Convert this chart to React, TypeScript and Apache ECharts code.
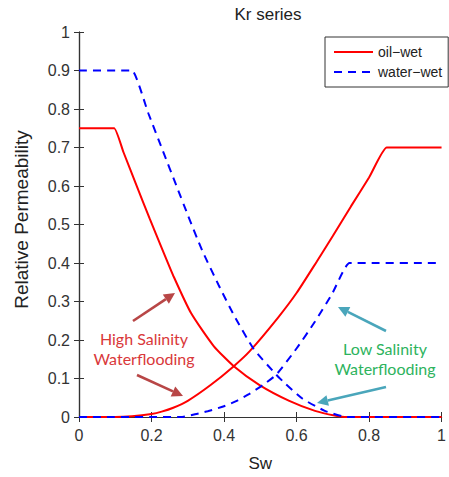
import React, { useEffect, useRef } from "react";
import * as echarts from "echarts";

// Sw values and relative permeabilities
const oilWetKro: [number, number][] = [
  [0, 0.75], [0.092, 0.75], [0.097, 0.75], [0.123, 0.687], [0.158, 0.603], [0.195, 0.515],
  [0.23, 0.435], [0.262, 0.363], [0.309, 0.27], [0.371, 0.185], [0.427, 0.132],
  [0.498, 0.083], [0.58, 0.042], [0.651, 0.016], [0.705, 0.004], [0.74, 0], [1, 0],
];
const oilWetKrw: [number, number][] = [
  [0, 0], [0.1, 0], [0.146, 0.002], [0.2, 0.008], [0.228, 0.014], [0.26, 0.024],
  [0.3, 0.042], [0.363, 0.083], [0.427, 0.132], [0.471, 0.171], [0.548, 0.257],
  [0.6, 0.322], [0.656, 0.404], [0.7, 0.47], [0.75, 0.547], [0.8, 0.622],
  [0.849, 0.7], [0.854, 0.7], [1, 0.7],
];
const waterWetKro: [number, number][] = [
  [0, 0.9], [0.141, 0.9], [0.146, 0.9], [0.192, 0.787], [0.231, 0.692], [0.269, 0.6],
  [0.3, 0.525], [0.34, 0.432], [0.385, 0.343], [0.427, 0.265], [0.481, 0.178],
  [0.544, 0.11], [0.562, 0.093], [0.616, 0.048], [0.678, 0.016], [0.725, 0.002],
  [0.74, 0], [1, 0],
];
const waterWetKrw: [number, number][] = [
  [0, 0], [0.28, 0], [0.32, 0.007], [0.355, 0.015], [0.4, 0.028], [0.435, 0.042],
  [0.47, 0.06], [0.507, 0.083], [0.544, 0.11], [0.6, 0.178], [0.651, 0.248],
  [0.697, 0.318], [0.746, 0.4], [0.751, 0.4], [1, 0.4],
];
const xTicks = [0, 0.2, 0.4, 0.6, 0.8, 1];
const yTicks = [0, 0.1, 0.2, 0.3, 0.4, 0.5, 0.6, 0.7, 0.8, 0.9, 1];

const W = 449;
const H = 477;

function arrow(x1: number, y1: number, x2: number, y2: number, color: string) {
  const ang = Math.atan2(y2 - y1, x2 - x1);
  const hl = 11;
  const hw = 5.5;
  const bx = x2 - hl * Math.cos(ang);
  const by = y2 - hl * Math.sin(ang);
  const px = -Math.sin(ang) * hw;
  const py = Math.cos(ang) * hw;
  return [
    {
      type: "line",
      shape: { x1, y1, x2: bx, y2: by },
      style: { stroke: color, lineWidth: 2.6 },
    },
    {
      type: "polygon",
      shape: { points: [[x2, y2], [bx + px, by + py], [bx - px, by - py]] },
      style: { fill: color },
    },
  ];
}

export default function App() {
  const ref = useRef<HTMLDivElement>(null);
  useEffect(() => {
    if (!ref.current) return;
    const chart = echarts.init(ref.current, undefined, { renderer: "svg" });
    const axisColor = "#333";
    const font = "'Liberation Sans', Arial, sans-serif";
    const fmt = (v: number) => String(Math.round(v * 10) / 10);
    const red = "#ff0000";
    const blue = "#0000ff";
    const annFont = "Lato, 'Open Sans', sans-serif";
    const xMin = xTicks[0];
    const xMax = xTicks[xTicks.length - 1];
    const yMin = yTicks[0];
    const yMax = yTicks[yTicks.length - 1];
    const lineCommon = { type: "line", symbol: "none", smooth: 0.2 };
    chart.setOption({
      animation: false,
      backgroundColor: "#fff",
      title: {
        text: "Kr series",
        left: 263,
        top: 1,
        textAlign: "center",
        textStyle: { fontFamily: font, fontSize: 17, fontWeight: "normal", color: "#222" },
      },
      grid: { left: 79, right: 2, top: 32, bottom: 58 },
      legend: {
        orient: "vertical",
        left: 325,
        top: 37,
        padding: [8, 6, 8, 8],
        itemWidth: 39,
        itemHeight: 14,
        itemGap: 6,
        borderColor: "#333",
        borderWidth: 1,
        backgroundColor: "#fff",
        itemStyle: { opacity: 0 },
        textStyle: { fontFamily: font, fontSize: 14, color: "#222" },
        data: ["oil\u2212wet", "water\u2212wet"],
      },
      xAxis: [
        {
          type: "value",
          min: xMin,
          max: xMax,
          interval: 0.2,
          name: "Sw",
          nameLocation: "middle",
          nameGap: 38,
          nameTextStyle: { fontFamily: font, fontSize: 17, color: "#222" },
          axisLine: { show: true, lineStyle: { color: axisColor, width: 1.2 } },
          axisTick: { show: true, inside: true, length: 5, lineStyle: { color: axisColor } },
          axisLabel: { fontFamily: font, fontSize: 16, color: "#333", margin: 10, formatter: fmt },
          splitLine: { show: false },
        },
        {
          type: "value",
          position: "top",
          min: xMin,
          max: xMax,
          interval: 0.2,
          axisLine: { show: true, lineStyle: { color: axisColor, width: 1.2 } },
          axisTick: { show: true, inside: true, length: 5, lineStyle: { color: axisColor } },
          axisLabel: { show: false },
          splitLine: { show: false },
        },
      ],
      yAxis: [
        {
          type: "value",
          min: yMin,
          max: yMax,
          interval: 0.1,
          name: "Relative Permeability",
          nameLocation: "middle",
          nameGap: 48,
          nameTextStyle: { fontFamily: font, fontSize: 19, color: "#222", padding: [0, 0, 0, 10] },
          axisLine: { show: true, lineStyle: { color: axisColor, width: 1.2 } },
          axisTick: { show: true, inside: true, length: 5, lineStyle: { color: axisColor } },
          axisLabel: { fontFamily: font, fontSize: 16, color: "#333", margin: 9, formatter: fmt },
          splitLine: { show: false },
        },
        {
          type: "value",
          position: "right",
          min: yMin,
          max: yMax,
          interval: 0.1,
          axisLine: { show: true, lineStyle: { color: axisColor, width: 1.2 } },
          axisTick: { show: true, inside: true, length: 5, lineStyle: { color: axisColor } },
          axisLabel: { show: false },
          splitLine: { show: false },
        },
      ],
      series: [
        {
          ...lineCommon,
          name: "oil\u2212wet",
          data: oilWetKro,
          lineStyle: { color: red, width: 2 },
          itemStyle: { color: red },
        },
        {
          ...lineCommon,
          name: "oil\u2212wet",
          data: oilWetKrw,
          lineStyle: { color: red, width: 2 },
          itemStyle: { color: red },
        },
        {
          ...lineCommon,
          name: "water\u2212wet",
          data: waterWetKro,
          lineStyle: { color: blue, width: 2, type: [8, 6] },
          itemStyle: { color: blue },
        },
        {
          ...lineCommon,
          name: "water\u2212wet",
          data: waterWetKrw,
          lineStyle: { color: blue, width: 2, type: [8, 6] },
          itemStyle: { color: blue },
        },
      ],
      graphic: [
        ...arrow(133, 321, 175, 293, "#b84646"),
        ...arrow(137, 375, 183, 396, "#b84646"),
        ...arrow(386, 331, 338, 307, "#4aa6bb"),
        ...arrow(386, 387, 317, 403, "#4aa6bb"),
        {
          type: "text",
          x: 144,
          y: 348,
          style: {
            text: "High Salinity\nWaterflooding",
            fill: "#d9383a",
            font: `16px ${annFont}`,
            lineHeight: 20,
            align: "center",
            verticalAlign: "middle",
          },
        },
        {
          type: "text",
          x: 385,
          y: 358,
          style: {
            text: "Low Salinity\nWaterflooding",
            fill: "#2db35d",
            font: `16px ${annFont}`,
            lineHeight: 20,
            align: "center",
            verticalAlign: "middle",
          },
        },
      ],
    });
    return () => chart.dispose();
  }, []);
  return (
    <div
      ref={ref}
      style={{ position: "fixed", left: 0, top: 0, width: W, height: H, background: "#fff" }}
    />
  );
}
